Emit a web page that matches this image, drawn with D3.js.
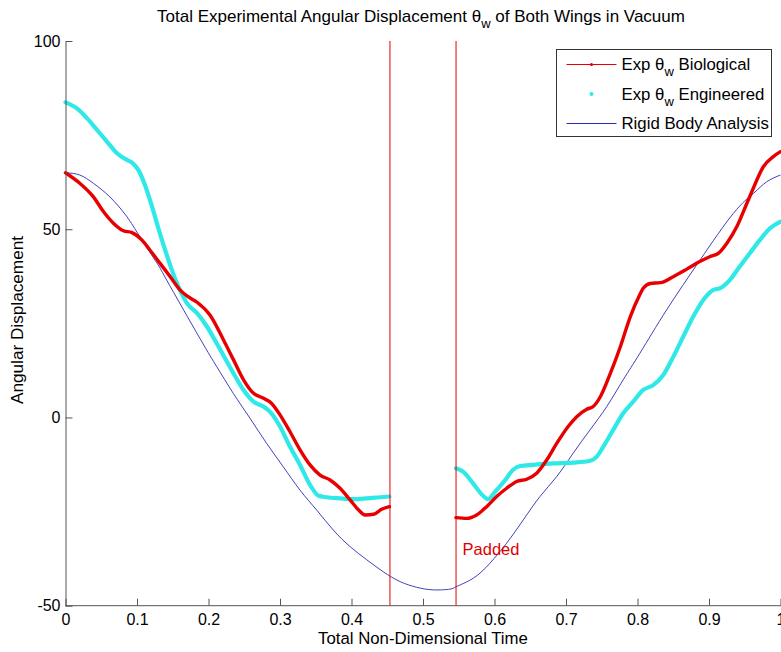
<!DOCTYPE html>
<html>
<head>
<meta charset="utf-8">
<script src="https://cdn.jsdelivr.net/npm/d3@7/dist/d3.min.js"></script>
<style>
  body { margin: 0; background: #fff; }
  svg text { font-family: "Liberation Sans", Arial, sans-serif; }
</style>
</head>
<body>
<div id="chart"></div>
<script>
// experimental biological wing (red), before and after the padded gap
var redT1 = [0, .020, .039, .053, .067, .081, .093, .107, .118, .132, .148, .160, .172, .184, .202, .221, .235, .249, .263, .277, .288, .300, .314, .328, .342, .356, .370, .384, .398, .410, .419, .431, .442, .453];
var redY1 = [65.0, 62.2, 58.6, 54.7, 51.6, 49.6, 49.1, 47.1, 44.5, 41.0, 37.0, 33.9, 32.0, 30.6, 27.2, 20.6, 15.3, 10.0, 6.4, 5.1, 3.8, 0.7, -3.8, -8.6, -12.6, -15.3, -16.6, -18.8, -21.9, -24.6, -25.9, -25.7, -24.4, -23.7];
var redT2 = [.546, .561, .575, .589, .603, .617, .631, .645, .659, .673, .687, .703, .715, .729, .738, .748, .762, .776, .790, .803, .808, .818, .832, .850, .869, .887, .901, .913, .925, .939, .953, .962, .976, .990, 1.0];
var redY2 = [-26.6, -26.8, -25.9, -23.7, -21.0, -18.8, -17.0, -16.4, -14.8, -11.3, -6.9, -2.4, 0.2, 2.2, 2.9, 5.5, 11.7, 18.8, 26.8, 32.5, 34.3, 35.6, 35.8, 37.4, 39.4, 41.4, 42.7, 43.6, 46.3, 50.7, 56.9, 60.9, 66.6, 69.3, 70.6];

// experimental engineered wing (cyan)
var cyanT1 = [0, .016, .030, .044, .058, .072, .086, .093, .102, .111, .121, .132, .144, .153, .160, .170, .184, .198, .212, .235, .249, .263, .277, .288, .300, .314, .328, .342, .354, .365, .384, .403, .421, .440, .453];
var cyanY1 = [83.7, 82.1, 79.5, 76.4, 73.3, 70.2, 68.4, 67.7, 65.7, 61.8, 56.0, 48.9, 41.8, 37.0, 33.9, 30.3, 27.7, 24.1, 19.5, 11.7, 7.3, 4.2, 2.9, 1.1, -2.4, -7.8, -12.6, -17.9, -20.8, -21.2, -21.5, -21.7, -21.5, -21.2, -21.0];
var cyanT2 = [.546, .556, .570, .584, .591, .601, .615, .626, .636, .654, .682, .710, .734, .743, .752, .766, .780, .794, .808, .822, .836, .850, .864, .878, .892, .906, .915, .929, .943, .957, .971, .985, 1.0];
var cyanY2 = [-13.5, -14.4, -17.5, -20.8, -21.7, -19.7, -16.6, -13.9, -12.9, -12.6, -12.2, -12.0, -11.5, -10.4, -7.8, -3.3, 1.1, 4.2, 7.3, 8.6, 11.3, 16.1, 21.5, 26.8, 31.2, 33.9, 34.3, 36.5, 40.1, 43.6, 47.1, 50.2, 52.0];

// rigid body analysis (blue)
var blueT = [0, .020, .039, .062, .086, .104, .128, .1415, .188, .2115, .2347, .258, .2814, .3046, .328, .3513, .3745, .398, .4213, .4445, .468, .491, .5144, .5378, .547, .5703, .5937, .617, .6403, .6636, .687, .710, .7336, .757, .780, .8035, .8408, .8874, .934, .962, .9807, 1.0];
var blueY = [65.0, 64.4, 62.2, 58.6, 53.3, 48.0, 41.0, 36.5, 21.0, 13.5, 6.4, -0.2, -6.9, -13.1, -19.3, -24.6, -29.9, -34.3, -37.8, -41.0, -43.6, -45.1, -45.8, -45.6, -44.9, -42.7, -38.7, -33.4, -27.2, -21.0, -15.7, -9.5, -3.3, 2.9, 10.0, 17.1, 28.6, 41.8, 54.2, 59.5, 62.6, 64.4];

var padEdges = [0.4538, 0.5462];
var xTicks = [0, 0.1, 0.2, 0.3, 0.4, 0.5, 0.6, 0.7, 0.8, 0.9, 1];
var yTicks = [-50, 0, 50, 100];
var legendNames = ["Biological", "Engineered", "Rigid Body Analysis"];

var W = 781, H = 652;
var margin = {top: 41, left: 65.5, bottom: 46.3};
var x_scale = d3.scaleLinear().domain([0, 1]).range([margin.left, margin.left + 715]);
var y_scale = d3.scaleLinear().domain([-50, 100]).range([H - margin.bottom, margin.top]);

var svg = d3.select("#chart").append("svg")
    .attr("width", W)
    .attr("height", H);

function zip(t, y) {
    return t.map(function (d, i) { return [d, y[i]]; });
}

var line = d3.line()
    .x(function (d) { return x_scale(d[0]); })
    .y(function (d) { return y_scale(d[1]); })
    .curve(d3.curveMonotoneX);

// blue analysis curve, smooth so a natural spline
svg.append("path")
    .attr("d", line.curve(d3.curveNatural)(zip(blueT, blueY)))
    .attr("fill", "none")
    .attr("stroke", "#2a2ab8")
    .attr("stroke-width", 0.9);
line.curve(d3.curveMonotoneX);

// cyan engineered
[zip(cyanT1, cyanY1), zip(cyanT2, cyanY2)].forEach(function (seg) {
    svg.append("path")
        .attr("d", line(seg))
        .attr("fill", "none")
        .attr("stroke", "#2fe8e8")
        .attr("stroke-width", 4.2)
        .attr("stroke-linecap", "round");
});

// red biological
[zip(redT1, redY1), zip(redT2, redY2)].forEach(function (seg) {
    svg.append("path")
        .attr("d", line(seg))
        .attr("fill", "none")
        .attr("stroke", "#e80000")
        .attr("stroke-width", 3.4)
        .attr("stroke-linecap", "round");
});

// padded gap markers
svg.selectAll(".pad")
    .data(padEdges)
    .enter().append("line")
    .attr("x1", function (d) { return x_scale(d); })
    .attr("x2", function (d) { return x_scale(d); })
    .attr("y1", y_scale(100))
    .attr("y2", y_scale(-50))
    .attr("stroke", "#e00000")
    .attr("stroke-width", 1);

svg.append("text")
    .attr("x", x_scale(padEdges[1]) + 6.5)
    .attr("y", 555)
    .attr("fill", "#e00000")
    .attr("font-size", 16.5)
    .text("Padded");

// axes
var x_axis = d3.axisBottom(x_scale)
    .tickValues(xTicks)
    .tickSizeInner(-7)
    .tickSizeOuter(0)
    .tickPadding(8)
    .tickFormat(function (d) { return String(d); });

var y_axis = d3.axisLeft(y_scale)
    .tickValues(yTicks)
    .tickSizeInner(-7)
    .tickSizeOuter(0)
    .tickPadding(5)
    .tickFormat(function (d) { return String(d); });

var gx = svg.append("g")
    .attr("transform", "translate(0," + y_scale(-50) + ")")
    .call(x_axis);
gx.select(".domain").attr("d", "M" + margin.left + ",0H" + W);

var gy = svg.append("g")
    .attr("transform", "translate(" + margin.left + ",0)")
    .call(y_axis);

svg.selectAll(".tick text")
    .attr("font-size", 16)
    .attr("font-family", "Liberation Sans, Arial, sans-serif")
    .attr("fill", "#000");
svg.selectAll(".domain, .tick line").attr("stroke", "#555");

// labels
svg.append("text")
    .attr("x", 423)
    .attr("y", 644)
    .attr("text-anchor", "middle")
    .attr("font-size", 16.8)
    .text("Total Non-Dimensional Time");

svg.append("text")
    .attr("transform", "translate(23," + 320 + ") rotate(-90)")
    .attr("text-anchor", "middle")
    .attr("font-size", 17.2)
    .text("Angular Displacement");

var title = svg.append("text")
    .attr("x", 421)
    .attr("y", 22)
    .attr("text-anchor", "middle")
    .attr("font-size", 17);
title.append("tspan").text("Total Experimental Angular Displacement \u03b8");
title.append("tspan").attr("font-size", 13).attr("dy", 6).text("w");
title.append("tspan").attr("dy", -6).text(" of Both Wings in Vacuum");

// legend
var lg = svg.append("g").attr("transform", "translate(556.5,49.5)");
lg.append("rect")
    .attr("width", 215)
    .attr("height", 87)
    .attr("fill", "#fff")
    .attr("stroke", "#333")
    .attr("stroke-width", 1);

var rowY = [15, 44.5, 74];
var colors = ["#e80000", "#2fe8e8", "#2a2ab8"];
legendNames.forEach(function (name, i) {
    var row = lg.append("g").attr("transform", "translate(0," + rowY[i] + ")");
    if (i !== 1) {
        row.append("line")
            .attr("x1", 10).attr("x2", 60)
            .attr("stroke", colors[i])
            .attr("stroke-width", 1);
    }
    if (i !== 2) {
        row.append("circle")
            .attr("cx", 35)
            .attr("r", i === 0 ? 1.6 : 2)
            .attr("fill", colors[i]);
    }
    var t = row.append("text")
        .attr("x", 65)
        .attr("dy", "0.35em")
        .attr("font-size", 16.8);
    if (i === 2) {
        t.text(name);
    } else {
        t.append("tspan").text("Exp \u03b8");
        t.append("tspan").attr("font-size", 13).attr("dy", 6).text("w");
        t.append("tspan").attr("dy", -6).text(" " + name);
    }
});
</script>
</body>
</html>
